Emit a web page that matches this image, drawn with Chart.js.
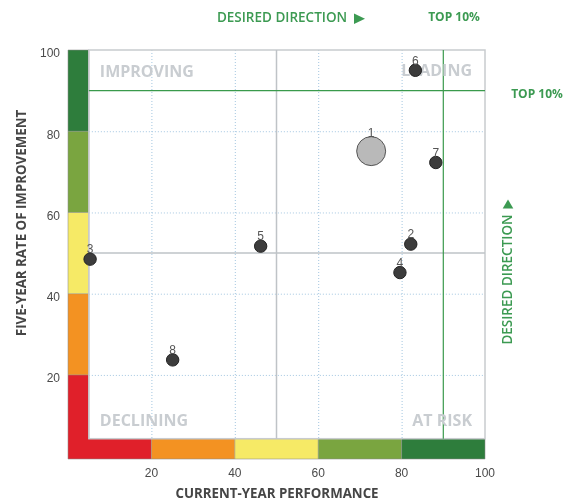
<!DOCTYPE html>
<html><head><meta charset="utf-8">
<script src="https://cdn.jsdelivr.net/npm/chart.js@4"></script>
<style>html,body{margin:0;padding:0;background:#fff}#c{display:block}</style>
</head><body>
<canvas id="c" width="575" height="502"></canvas>
<script>
const pointLabels = ['1','2','3','4','5','6','7','8'];
const currentYear = [72.7, 82.2, 5.3, 79.6, 46.2, 83.3, 88.2, 25.1];
const fiveYear    = [75.1, 52.2, 48.5, 45.2, 51.7, 95.0, 72.3, 23.7];
const xTicks = [20, 40, 60, 80, 100];
const yTicks = [20, 40, 60, 80, 100];
const bandEdges = [0, 20, 40, 60, 80, 100];
const bandColors = ['#e0202a', '#f39222', '#f6ea66', '#7aa540', '#2e7d3c'];
const midLine = 50;
const top10Line = 90;
const barDepth = 5;
const xAxisTitle = 'CURRENT-YEAR PERFORMANCE';
const yAxisTitle = 'FIVE-YEAR RATE OF IMPROVEMENT';
const quadrantLabels = ['IMPROVING', 'LEADING', 'DECLINING', 'AT RISK'];
const directionText = 'DESIRED DIRECTION';
const top10Text = 'TOP 10%';

const GREEN_TXT = '#3c9a52';

const quadPlugin = {
  id: 'quad',
  beforeDatasetsDraw(chart) {
    const {ctx, scales: {x, y}} = chart;
    const X = v => x.getPixelForValue(v), Y = v => y.getPixelForValue(v);
    const x0 = x.min, y0 = y.min;
    const fx = x0 + barDepth, fy = y0 + barDepth;
    ctx.save();
    for (let i = 0; i < bandColors.length; i++) {
      ctx.fillStyle = bandColors[i];
      const lo = i === 0 ? y0 : bandEdges[i];
      ctx.fillRect(X(x0), Y(bandEdges[i + 1]), X(fx) - X(x0), Y(lo) - Y(bandEdges[i + 1]));
      const lx = i === 0 ? x0 : bandEdges[i];
      ctx.fillRect(X(lx), Y(fy), X(bandEdges[i + 1]) - X(lx), Y(y0) - Y(fy));
    }
    ctx.strokeStyle = 'rgba(140,140,140,0.55)';
    ctx.lineWidth = 1;
    ctx.beginPath();
    ctx.moveTo(X(x0), Y(100)); ctx.lineTo(X(fx), Y(100)); ctx.lineTo(X(fx), Y(fy));
    ctx.lineTo(X(100), Y(fy)); ctx.lineTo(X(100), Y(y0)); ctx.lineTo(X(x0), Y(y0)); ctx.closePath();
    for (let i = 1; i < bandEdges.length - 1; i++) {
      ctx.moveTo(X(x0), Y(bandEdges[i])); ctx.lineTo(X(fx), Y(bandEdges[i]));
      ctx.moveTo(X(bandEdges[i]), Y(fy)); ctx.lineTo(X(bandEdges[i]), Y(y0));
    }
    ctx.stroke();
    ctx.strokeStyle = '#a3c6e0';
    ctx.setLineDash([1, 2]);
    ctx.beginPath();
    xTicks.filter(v => v < 100).forEach(v => { ctx.moveTo(X(v) + 0.5, Y(100)); ctx.lineTo(X(v) + 0.5, Y(fy)); });
    yTicks.filter(v => v < 100).forEach(v => { ctx.moveTo(X(fx), Y(v) + 0.5); ctx.lineTo(X(100), Y(v) + 0.5); });
    ctx.stroke();
    ctx.setLineDash([]);
    ctx.strokeStyle = '#c8cbce';
    ctx.lineWidth = 1.5;
    ctx.strokeRect(X(fx), Y(100), X(100) - X(fx), Y(fy) - Y(100));
    ctx.strokeStyle = '#bfc3c7';
    ctx.lineWidth = 1.5;
    ctx.beginPath();
    ctx.moveTo(X(midLine), Y(100)); ctx.lineTo(X(midLine), Y(fy));
    ctx.moveTo(X(fx), Y(midLine)); ctx.lineTo(X(100), Y(midLine));
    ctx.stroke();
    ctx.strokeStyle = '#3a9a4c';
    ctx.lineWidth = 1.2;
    ctx.beginPath();
    ctx.moveTo(X(top10Line), Y(100)); ctx.lineTo(X(top10Line), Y(fy));
    ctx.moveTo(X(fx), Y(top10Line)); ctx.lineTo(X(100), Y(top10Line));
    ctx.stroke();
    ctx.fillStyle = '#c9cdd1';
    ctx.font = 'bold 16px "Open Sans"';
    ctx.textBaseline = 'middle';
    const L = X(fx) + 11, R = X(100) - 13;
    const T = Y(100) + 22, B = Y(fy) - 17;
    ctx.textAlign = 'left';
    ctx.fillText(quadrantLabels[0], L, T);
    ctx.fillText(quadrantLabels[2], L, B);
    ctx.textAlign = 'right';
    ctx.fillText(quadrantLabels[1], R, T - 1);
    ctx.fillText(quadrantLabels[3], R, B);
    ctx.restore();
  },
  afterDatasetsDraw(chart) {
    const {ctx} = chart;
    const meta = chart.getDatasetMeta(0);
    ctx.save();
    ctx.fillStyle = '#555';
    ctx.font = '12px "Liberation Sans"';
    ctx.textAlign = 'center';
    ctx.textBaseline = 'alphabetic';
    meta.data.forEach((el, i) => {
      const r = el.options.radius;
      ctx.fillText(pointLabels[i], el.x, el.y - r + 0.5);
    });
    ctx.restore();
  },
  afterDraw(chart) {
    const {ctx} = chart;
    ctx.save();
    ctx.textAlign = 'center';
    ctx.textBaseline = 'middle';
    ctx.fillStyle = '#454545';
    ctx.font = 'bold 13.3px "Open Sans"';
    ctx.fillText(xAxisTitle, 277, 494.5);
    ctx.save();
    ctx.translate(22.5, 223);
    ctx.rotate(-Math.PI / 2);
    ctx.fillText(yAxisTitle, 0, 0);
    ctx.restore();
    ctx.fillStyle = GREEN_TXT;
    ctx.font = '600 13.5px "Open Sans"';
    ctx.fillText(directionText, 282, 18.5);
    ctx.beginPath();
    ctx.moveTo(354, 13.5); ctx.lineTo(365, 18.7); ctx.lineTo(354, 24); ctx.closePath(); ctx.fill();
    ctx.font = 'bold 12px "Open Sans"';
    ctx.fillText(top10Text, 454, 18);
    ctx.fillText(top10Text, 537, 94.5);
    ctx.save();
    ctx.translate(508, 279.5);
    ctx.rotate(-Math.PI / 2);
    ctx.font = '600 13.5px "Open Sans"';
    ctx.fillText(directionText, 0, 0);
    ctx.restore();
    ctx.beginPath();
    ctx.moveTo(502.7, 208.5); ctx.lineTo(508, 199.5); ctx.lineTo(513.3, 208.5); ctx.closePath(); ctx.fill();
    ctx.restore();
  }
};

new Chart(document.getElementById('c'), {
  type: 'scatter',
  data: {
    datasets: [{
      data: currentYear.map((v, i) => ({x: v, y: fiveYear[i]})),
      pointRadius: c => c.dataIndex === 0 ? 14.5 : 6.2,
      pointHoverRadius: c => c.dataIndex === 0 ? 14.5 : 6.2,
      pointBackgroundColor: c => c.dataIndex === 0 ? '#b9b9b9' : '#3c3c3c',
      pointBorderColor: c => c.dataIndex === 0 ? '#555' : '#222',
      pointBorderWidth: 1
    }]
  },
  options: {
    responsive: false,
    animation: false,
    devicePixelRatio: 1,
    layout: {padding: {top: 50, right: 90, left: 0, bottom: 0}},
    plugins: {legend: {display: false}, tooltip: {enabled: false}},
    scales: {
      x: {
        type: 'linear', min: 0, max: 100,
        afterBuildTicks: s => { s.ticks = xTicks.map(v => ({value: v})); },
        afterFit: s => { s.height = 43; },
        grid: {display: false, drawTicks: false},
        border: {display: false},
        ticks: {padding: 7, color: '#4a4a4a', font: {family: 'Liberation Sans', size: 12}, maxRotation: 0, autoSkip: false}
      },
      y: {
        type: 'linear', min: -0.7, max: 100,
        afterBuildTicks: s => { s.ticks = yTicks.map(v => ({value: v})); },
        afterFit: s => { s.width = 68; },
        grid: {display: false, drawTicks: false},
        border: {display: false},
        ticks: {padding: 8, labelOffset: 4, color: '#4a4a4a', font: {family: 'Liberation Sans', size: 12}, autoSkip: false}
      }
    }
  },
  plugins: [quadPlugin]
});
</script>
</body></html>
